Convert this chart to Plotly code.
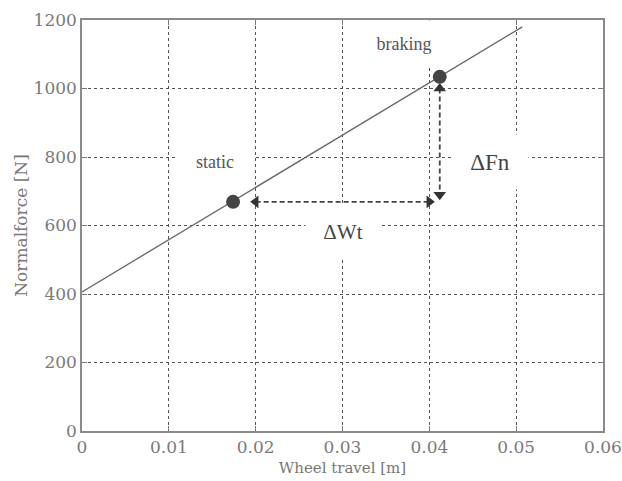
import plotly.graph_objects as go

# Data
line_x = [0.0, 0.0507]
line_y = [406, 1180]
point_x = [0.0174, 0.0412]
point_y = [669, 1034]
point_labels = ["static", "braking"]
label_x = [0.0153, 0.0371]
label_y = [785, 1130]

# Delta arrows
dwt_x = [0.0200, 0.0400]
dwt_y = [669, 669]
dfn_x = [0.0412, 0.0412]
dfn_y = [1000, 690]
dwt_label = (0.0300, 580)
dfn_label = (0.0470, 785)

x_ticks = [0, 0.01, 0.02, 0.03, 0.04, 0.05, 0.06]
x_ticktext = ["0", "0.01", "0.02", "0.03", "0.04", "0.05", "0.06"]
y_ticks = [0, 200, 400, 600, 800, 1000, 1200]

fig = go.Figure()

fig.add_trace(go.Scatter(x=line_x, y=line_y, mode="lines",
                         line=dict(color="#666", width=1.3), showlegend=False))

# dashed arrows
fig.add_trace(go.Scatter(x=dwt_x, y=dwt_y, mode="lines",
                         line=dict(color="#444", width=1.8, dash="5px,3px"), showlegend=False))
fig.add_trace(go.Scatter(x=dfn_x, y=dfn_y, mode="lines",
                         line=dict(color="#444", width=1.8, dash="5px,3px"), showlegend=False))
# arrowheads
fig.add_trace(go.Scatter(x=[dwt_x[0], dwt_x[1]], y=dwt_y, mode="markers",
                         marker=dict(symbol=["triangle-left", "triangle-right"], size=11, color="#333"),
                         showlegend=False))
fig.add_trace(go.Scatter(x=dfn_x, y=dfn_y, mode="markers",
                         marker=dict(symbol=["triangle-up", "triangle-down"], size=11, color="#333"),
                         showlegend=False))

fig.add_trace(go.Scatter(x=point_x, y=point_y, mode="markers",
                         marker=dict(symbol="circle", size=14, color="#444"), showlegend=False))

serif = "Liberation Serif, Times New Roman, serif"
# labels with white boxes
fig.add_annotation(x=label_x[0], y=label_y[0], text=point_labels[0], showarrow=False,
                   font=dict(family=serif, size=18, color="#555"),
                   bgcolor="white", width=74, height=48)
fig.add_annotation(x=label_x[1], y=label_y[1], text=point_labels[1], showarrow=False,
                   font=dict(family=serif, size=18, color="#555"),
                   bgcolor="white", width=84, height=44)
fig.add_annotation(x=dwt_label[0], y=dwt_label[1], text="ΔWt", showarrow=False,
                   font=dict(family=serif, size=21, color="#444"),
                   bgcolor="white", width=72, height=50)
fig.add_annotation(x=dfn_label[0], y=dfn_label[1], text="ΔFn", showarrow=False,
                   font=dict(family=serif, size=23, color="#444"),
                   bgcolor="white", width=74, height=52)

tickfont = dict(family="DejaVu Serif", size=17, color="#7a7a7a")
axis_common = dict(showline=True, linecolor="#8a8a8a", linewidth=1.5, mirror="ticks",
                   ticks="inside", ticklen=5, tickcolor="#777",
                   showgrid=True, gridcolor="#555", gridwidth=1, griddash="3px,3px",
                   zeroline=False, tickfont=tickfont, automargin=False)

fig.update_xaxes(range=[0, 0.06], tickvals=x_ticks, ticktext=x_ticktext,
                 title=dict(text="Wheel travel [m]", font=dict(family="DejaVu Serif", size=15, color="#777"),
                            standoff=6),
                 **axis_common)
fig.update_yaxes(range=[0, 1200], tickvals=y_ticks,
                 title=dict(text="Normalforce [N]", font=dict(family="DejaVu Serif", size=17, color="#777"),
                            standoff=2),
                 **axis_common)

fig.update_layout(width=622, height=481, margin=dict(l=82, r=19, t=20, b=50),
                  plot_bgcolor="white", paper_bgcolor="white")

fig.write_html("out.html")
